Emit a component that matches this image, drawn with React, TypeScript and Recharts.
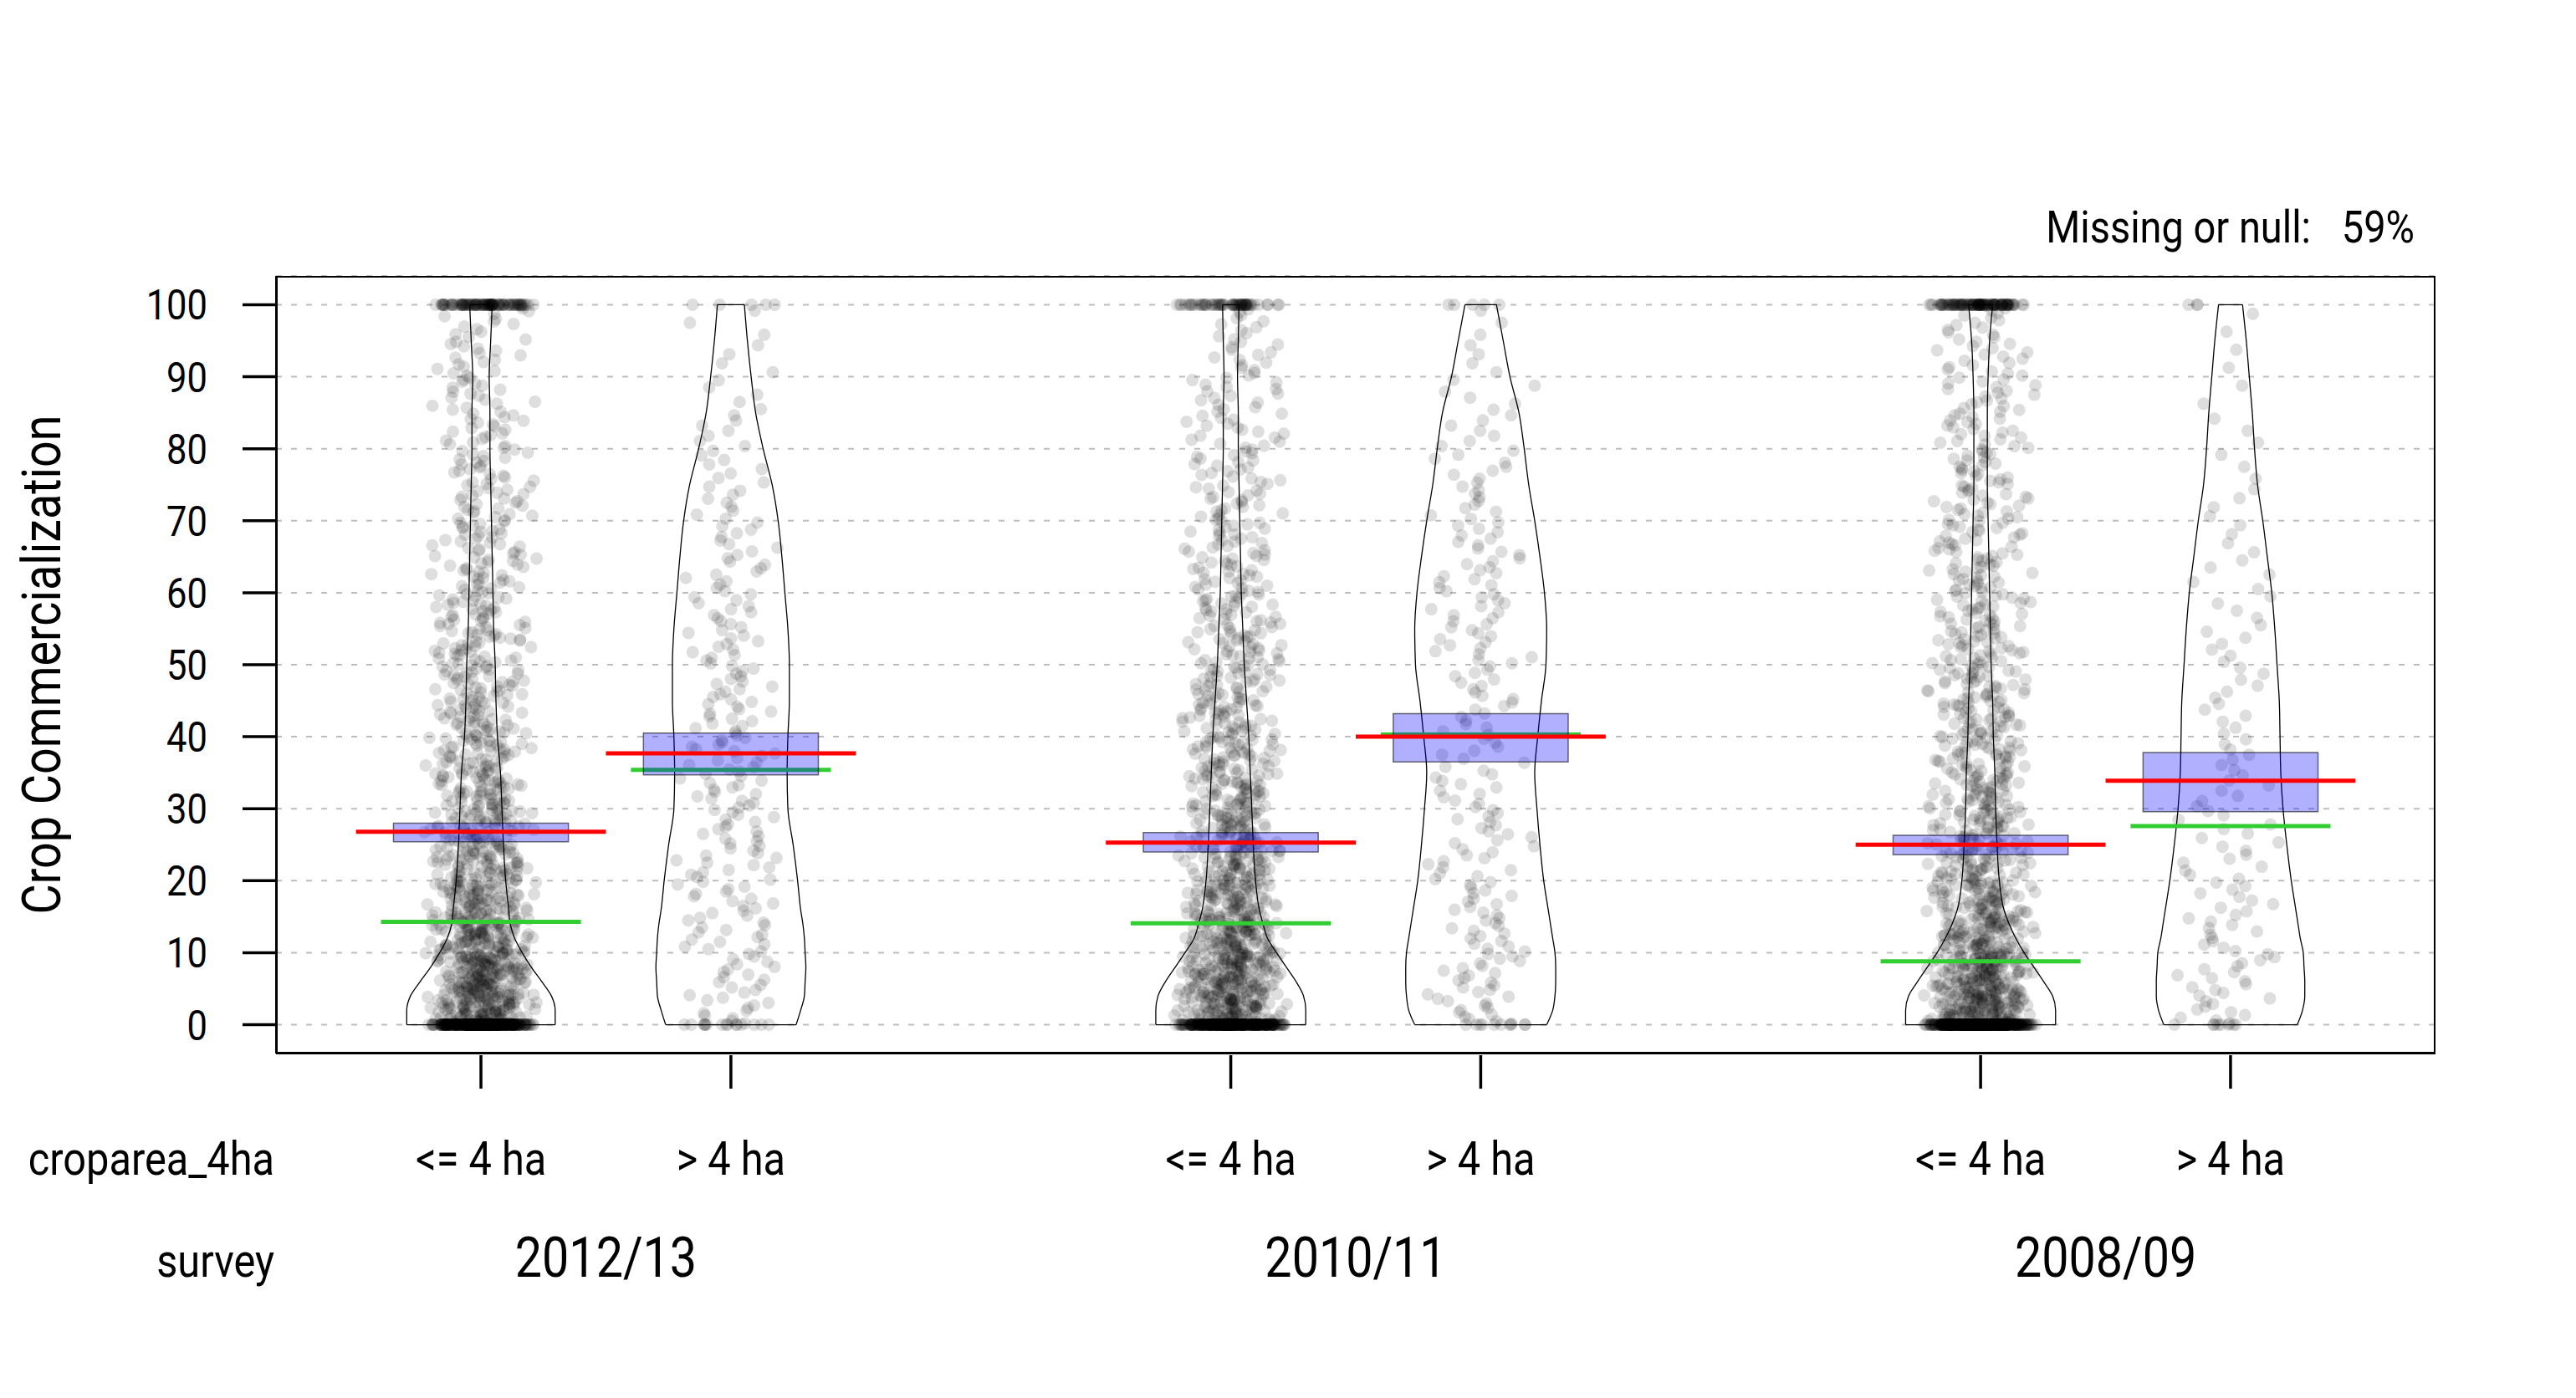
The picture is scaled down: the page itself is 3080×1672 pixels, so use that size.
import React from 'react';
import { ComposedChart, Scatter, XAxis, YAxis, CartesianGrid } from 'recharts';

// ---------- data ----------
const groupPositions = [1, 2, 4, 5, 7, 8];
const cropareaLabels = ['<= 4 ha', '> 4 ha', '<= 4 ha', '> 4 ha', '<= 4 ha', '> 4 ha'];
const surveyPositions = [1.5, 4.5, 7.5];
const surveyLabels = ['2012/13', '2010/11', '2008/09'];
const yTicks = [0, 10, 20, 30, 40, 50, 60, 70, 80, 90, 100];

const means = [26.8, 37.7, 25.3, 40.0, 25.0, 33.9];
const medians = [14.3, 35.4, 14.1, 40.3, 8.8, 27.6];
const ciLow = [25.4, 34.7, 24.0, 36.5, 23.6, 29.6];
const ciHigh = [28.0, 40.5, 26.7, 43.2, 26.3, 37.8];

// violin half-width (percent of max) at each level
const violinLevels = [100, 95, 90, 85, 80, 75, 70, 65, 60, 55, 50, 45, 40, 35, 30, 25, 20, 16, 14, 12, 10, 8, 6, 4, 2, 0];
const violinG1 = [15, 13, 11, 12, 12, 13, 14, 15, 16, 17, 19, 20, 22, 26, 28, 30, 33, 37, 39, 45, 55, 67, 81, 94, 99, 99];
const violinG2 = [18, 22, 27, 33, 43, 55, 63, 68, 72, 76, 78, 78, 76, 75, 76, 83, 89, 93, 96, 98, 99, 100, 99, 98, 93, 87];
const violinG3 = [11, 10, 9, 10, 10, 11, 12, 13, 14, 16, 18, 21, 24, 26, 28, 30, 33, 38, 43, 49, 61, 74, 87, 97, 100, 100];
const violinG4 = [21, 30, 39, 51, 58, 64, 72, 79, 85, 88, 87, 81, 76, 72, 75, 79, 84, 90, 93, 96, 99, 100, 100, 99, 96, 88];
const violinG5 = [16, 12, 10, 9, 9, 9, 10, 11, 12, 13, 14, 16, 17, 19, 20, 22, 25, 31, 38, 47, 58, 71, 84, 96, 100, 100];
const violinG6 = [16, 21, 25, 29, 32, 36, 43, 49, 55, 59, 62, 65, 66, 67, 70, 75, 81, 87, 90, 93, 97, 98, 99, 99, 96, 89];

// observation counts: exactly 0, per 5-unit bin (0-5 ... 95-100), exactly 100
const zeroCounts = [400, 15, 350, 10, 560, 8];
const hundredCounts = [100, 5, 60, 5, 110, 3];
const binsG1 = [160, 150, 120, 95, 80, 70, 60, 52, 46, 42, 38, 34, 30, 27, 25, 22, 20, 18, 16, 14];
const binsG2 = [14, 14, 15, 15, 15, 15, 16, 16, 15, 14, 13, 12, 11, 10, 9, 8, 7, 5, 4, 3];
const binsG3 = [150, 140, 115, 90, 78, 68, 58, 50, 44, 40, 36, 32, 28, 25, 22, 20, 18, 16, 14, 12];
const binsG4 = [16, 15, 14, 13, 12, 12, 11, 9, 10, 11, 12, 12, 12, 11, 10, 9, 7, 6, 4, 3];
const binsG5 = [170, 140, 100, 80, 65, 58, 52, 47, 43, 40, 36, 33, 30, 27, 25, 23, 21, 19, 17, 15];
const binsG6 = [13, 12, 11, 10, 9, 8, 7, 7, 6, 6, 6, 5, 5, 4, 4, 3, 3, 2, 2, 2];

const missingLabel = 'Missing or null:';
const missingValue = '59%';

// ---------- layout / style ----------
const W = 3080;
const H = 1672;
const FONT = "Roboto, 'Liberation Sans', sans-serif";
const SQ = 0.87;
const X_DOMAIN: [number, number] = [0.18, 8.82];
const Y_DOMAIN: [number, number] = [-4, 104];
const VIOLIN_HALF = 0.3;
const BOX_HALF = 0.35;
const MEAN_HALF = 0.5;
const MEDIAN_HALF = 0.4;
const JITTER = 0.23;
const BIN = 5;

const violinSets = [violinG1, violinG2, violinG3, violinG4, violinG5, violinG6];
const binSets = [binsG1, binsG2, binsG3, binsG4, binsG5, binsG6];

// deterministic scrambling for the horizontal jitter of the strip points (like R's jitter)
function scramble(n: number) {
  let t = (n * 2654435761 + 0x6d2b79f5) | 0;
  t = Math.imul(t ^ (t >>> 15), t | 1);
  t ^= t + Math.imul(t ^ (t >>> 7), t | 61);
  return ((t ^ (t >>> 14)) >>> 0) / 4294967296;
}
const spread = (u: number) => (u < 0.5 ? Math.sqrt(2 * u) - 1 : 1 - Math.sqrt(2 * (1 - u)));

function jitterCloud(gi: number) {
  const pos = groupPositions[gi];
  const out: { x: number; y: number }[] = [];
  let k = gi * 100003 + 17;
  const jx = () => {
    k += 1;
    return pos + spread(scramble(k)) * JITTER;
  };
  for (let i = 0; i < zeroCounts[gi]; i++) out.push({ x: jx(), y: 0 });
  binSets[gi].forEach((n, b) => {
    for (let j = 0; j < n; j++) out.push({ x: jx(), y: b * BIN + ((j + 0.5) * BIN) / n });
  });
  for (let i = 0; i < hundredCounts[gi]; i++) out.push({ x: jx(), y: 100 });
  return out;
}

function violinSide(gi: number, sign: number) {
  const pos = groupPositions[gi];
  const w = violinSets[gi];
  return violinLevels.map((lv, i) => ({ x: pos + (sign * VIOLIN_HALF * w[i]) / 100, y: lv }));
}

function violinCap(gi: number, idx: number) {
  const pos = groupPositions[gi];
  const w = violinSets[gi][idx];
  const lv = violinLevels[idx];
  return [
    { x: pos - (VIOLIN_HALF * w) / 100, y: lv },
    { x: pos + (VIOLIN_HALF * w) / 100, y: lv },
  ];
}

const hLine = (gi: number, v: number, half: number) => [
  { x: groupPositions[gi] - half, y: v },
  { x: groupPositions[gi] + half, y: v },
];

const boxCorners = (gi: number) => {
  const p = groupPositions[gi];
  return [
    { x: p - BOX_HALF, y: ciLow[gi] },
    { x: p + BOX_HALF, y: ciLow[gi] },
    { x: p + BOX_HALF, y: ciHigh[gi] },
    { x: p - BOX_HALF, y: ciHigh[gi] },
  ];
};

const frameCorners = [
  { x: X_DOMAIN[0], y: Y_DOMAIN[0] },
  { x: X_DOMAIN[1], y: Y_DOMAIN[0] },
  { x: X_DOMAIN[1], y: Y_DOMAIN[1] },
  { x: X_DOMAIN[0], y: Y_DOMAIN[1] },
];

const noShape = () => <g />;
const dotShape = (p: any) => <circle cx={p.cx} cy={p.cy} r={7.5} fill="#000" fillOpacity={0.13} />;

const polyPath = (pts: any[]) =>
  pts.map((q: any, i: number) => `${i ? 'L' : 'M'}${q.x},${q.y}`).join(' ') + ' Z';

const boxPath = (p: any) => {
  const pts = p.points || [];
  if (!pts.length) return <g />;
  return (
    <path d={polyPath(pts)} fill="#0000ff" fillOpacity={0.31} stroke="#000" strokeOpacity={0.55} strokeWidth={1.5} />
  );
};

const framePath = (p: any) => {
  const pts = p.points || [];
  if (!pts.length) return <g />;
  return <path d={polyPath(pts)} fill="none" stroke="#000" strokeWidth={4} />;
};

const YTick = (props: any) => {
  const { x, y, payload } = props;
  return (
    <text
      transform={`translate(${x - 42},${y + 18}) scale(${SQ},1)`}
      textAnchor="end"
      fontFamily={FONT}
      fontSize={50}
      fill="#000"
    >
      {payload.value}
    </text>
  );
};

const XTick = (props: any) => {
  const { x, y, payload } = props;
  const v = payload.value;
  const gi = groupPositions.indexOf(v);
  if (gi >= 0) {
    return (
      <g>
        <line x1={x} x2={x} y1={y + 2} y2={y + 42} stroke="#000" strokeWidth={3.5} />
        <text
          transform={`translate(${x},${y + 145}) scale(${SQ},1)`}
          textAnchor="middle"
          fontFamily={FONT}
          fontSize={56}
          fill="#000"
        >
          {cropareaLabels[gi]}
        </text>
      </g>
    );
  }
  const si = surveyPositions.indexOf(v);
  return (
    <text
      transform={`translate(${x},${y + 267}) scale(${SQ},1)`}
      textAnchor="middle"
      fontFamily={FONT}
      fontSize={66}
      fill="#000"
    >
      {si >= 0 ? surveyLabels[si] : ''}
    </text>
  );
};

export default function App() {
  const clouds = groupPositions.map((_, gi) => jitterCloud(gi));
  const xTicks = [...groupPositions, ...surveyPositions].sort((a, b) => a - b);
  return (
    <div style={{ position: 'absolute', left: 0, top: 0, width: W, height: H, background: '#fff' }}>
      <ComposedChart width={W} height={H} margin={{ top: 330, right: 168, bottom: 112, left: 130 }}>
        <CartesianGrid horizontal vertical={false} stroke="#bdbdbd" strokeWidth={2} strokeDasharray="7 11" />
        <XAxis
          type="number"
          dataKey="x"
          domain={X_DOMAIN}
          allowDataOverflow
          ticks={xTicks}
          interval={0}
          height={300}
          tickSize={0}
          tickMargin={0}
          tickLine={false}
          axisLine={{ stroke: '#000', strokeWidth: 2 }}
          tick={<XTick />}
        />
        <YAxis
          type="number"
          dataKey="y"
          domain={Y_DOMAIN}
          allowDataOverflow
          ticks={yTicks}
          interval={0}
          width={200}
          tickSize={40}
          tickMargin={0}
          tickLine={{ stroke: '#000', strokeWidth: 3.5 }}
          axisLine={{ stroke: '#000', strokeWidth: 2 }}
          tick={<YTick />}
        />

        {clouds.map((pts, gi) => (
          <Scatter key={`pts${gi}`} data={pts} shape={dotShape} isAnimationActive={false} />
        ))}

        {groupPositions.map((_, gi) => (
          <Scatter
            key={`vl${gi}`}
            data={violinSide(gi, -1)}
            fill="#000"
            shape={noShape}
            line={{ stroke: '#000', strokeWidth: 1.3 }}
            lineJointType="monotoneY"
            isAnimationActive={false}
          />
        ))}
        {groupPositions.map((_, gi) => (
          <Scatter
            key={`vr${gi}`}
            data={violinSide(gi, 1)}
            fill="#000"
            shape={noShape}
            line={{ stroke: '#000', strokeWidth: 1.3 }}
            lineJointType="monotoneY"
            isAnimationActive={false}
          />
        ))}
        {groupPositions.map((_, gi) => (
          <Scatter
            key={`vt${gi}`}
            data={violinCap(gi, 0)}
            fill="#000"
            shape={noShape}
            line={{ stroke: '#000', strokeWidth: 1.3 }}
            isAnimationActive={false}
          />
        ))}
        {groupPositions.map((_, gi) => (
          <Scatter
            key={`vb${gi}`}
            data={violinCap(gi, violinLevels.length - 1)}
            fill="#000"
            shape={noShape}
            line={{ stroke: '#000', strokeWidth: 1.3 }}
            isAnimationActive={false}
          />
        ))}

        {groupPositions.map((_, gi) => (
          <Scatter
            key={`med${gi}`}
            data={hLine(gi, medians[gi], MEDIAN_HALF)}
            fill="#32cd32"
            shape={noShape}
            line={{ stroke: '#32cd32', strokeWidth: 5 }}
            isAnimationActive={false}
          />
        ))}
        {groupPositions.map((_, gi) => (
          <Scatter
            key={`box${gi}`}
            data={boxCorners(gi)}
            fill="#0000ff"
            shape={noShape}
            line={boxPath}
            isAnimationActive={false}
          />
        ))}
        {groupPositions.map((_, gi) => (
          <Scatter
            key={`mean${gi}`}
            data={hLine(gi, means[gi], MEAN_HALF)}
            fill="#ff0000"
            shape={noShape}
            line={{ stroke: '#ff0000', strokeWidth: 5 }}
            isAnimationActive={false}
          />
        ))}
        <Scatter data={frameCorners} fill="#000" shape={noShape} line={framePath} isAnimationActive={false} />
      </ComposedChart>

      <svg
        width={W}
        height={H}
        style={{ position: 'absolute', left: 0, top: 0, pointerEvents: 'none' }}
        fontFamily={FONT}
      >
        <text transform={`translate(72,795) rotate(-90) scale(${SQ},1)`} textAnchor="middle" fontSize={64} fill="#000">
          Crop Commercialization
        </text>
        <text transform={`translate(328,1405) scale(${SQ},1)`} textAnchor="end" fontSize={56} fill="#000">
          croparea_4ha
        </text>
        <text transform={`translate(328,1527) scale(${SQ},1)`} textAnchor="end" fontSize={56} fill="#000">
          survey
        </text>
        <text transform={`translate(2763,290) scale(${SQ},1)`} textAnchor="end" fontSize={54} fill="#000">
          {missingLabel}
        </text>
        <text transform={`translate(2887,290) scale(${SQ},1)`} textAnchor="end" fontSize={54} fill="#000">
          {missingValue}
        </text>
      </svg>
    </div>
  );
}
